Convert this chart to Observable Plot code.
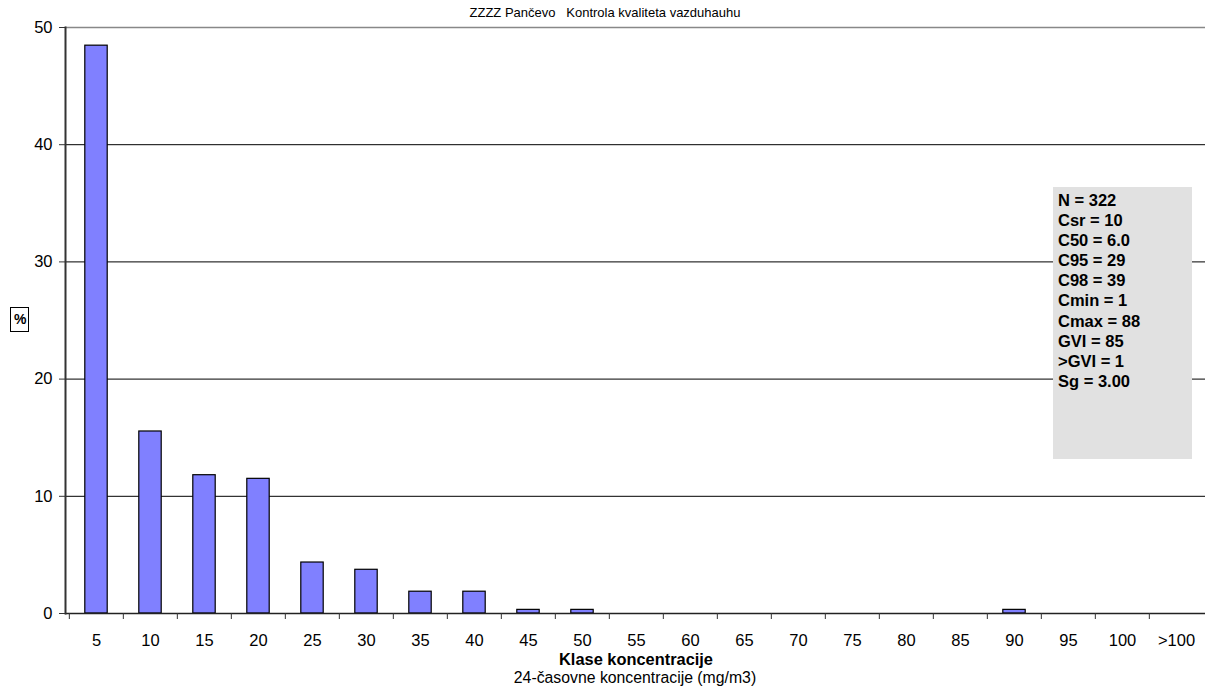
<!DOCTYPE html>
<html>
<head>
<meta charset="utf-8">
<script src="https://cdn.jsdelivr.net/npm/d3@7"></script>
<script src="https://cdn.jsdelivr.net/npm/@observablehq/plot@0.6"></script>
<style>
  html, body { margin: 0; padding: 0; background: #fff; overflow: hidden; }
  #wrap { position: relative; width: 1205px; height: 689px; overflow: hidden; font-family: "Liberation Sans", Arial, sans-serif; }
  #title { position: absolute; left: 0; width: 1210px; top: 5px; text-align: center; font-size: 13px; white-space: pre; color: #000; }
  #ylab { position: absolute; left: 10px; top: 307px; border: 1px solid #000; padding: 3px 2px 3px 3px; font-size: 14px; font-weight: bold; line-height: 17px; }
  #xt1 { position: absolute; left: 0; width: 1272px; top: 650px; text-align: center; font-size: 16.4px; font-weight: bold; }
  #xt2 { position: absolute; left: 0; width: 1270px; top: 669px; text-align: center; font-size: 15.8px; }
  #stats { position: absolute; left: 1053px; top: 187px; width: 134px; height: 264px; background: #e1e1e1; padding: 3px 0 5px 5px; font-size: 16.5px; font-weight: bold; line-height: 20.1px; white-space: pre; }
  svg { position: absolute; left: 0; top: 0; overflow: visible; }
</style>
</head>
<body>
<div id="wrap"></div>
<script>
const categories = ["5","10","15","20","25","30","35","40","45","50","55","60","65","70","75","80","85","90","95","100",">100"];
const percents = [48.45,15.53,11.80,11.49,4.35,3.73,1.86,1.86,0.31,0.31,0,0,0,0,0,0,0,0.31,0,0,0];
const yTicks = [0,10,20,30,40,50];
const titleText = "ZZZZ Pančevo   Kontrola kvaliteta vazduhauhu";
const yLabel = "%";
const xTitle = "Klase koncentracije";
const xSubtitle = "24-časovne koncentracije (mg/m3)";
const statsLines = ["N = 322","Csr = 10","C50 = 6.0","C95 = 29","C98 = 39","Cmin = 1","Cmax = 88","GVI = 85",">GVI = 1","Sg = 3.00"];

const data = categories.map((c, i) => ({cat: c, pct: percents[i]}));

const W = 1205, H = 689, mL = 65, mR = -1, mT = 27, mB = 76;
const bw = (W - mL - mR) / categories.length;

const chart = Plot.plot({
  width: W, height: H,
  marginTop: mT, marginBottom: mB, marginLeft: mL, marginRight: mR,
  style: {fontFamily: "Liberation Sans, Arial, sans-serif", fontSize: "16px", color: "#000", background: "transparent", overflow: "visible"},
  x: {type: "band", domain: categories, padding: 0, label: null},
  y: {domain: [0, 50], label: null},
  marks: [
    Plot.gridY(yTicks.slice(1, -1), {stroke: "#000", strokeOpacity: 1, strokeWidth: 1}),
    Plot.gridY([50], {stroke: "#888", strokeOpacity: 1, strokeWidth: 1.5}),
    Plot.barY(data, {x: "cat", y: "pct", fill: "#8080ff", stroke: "#000", strokeWidth: 1.2, insetLeft: 15.8, insetRight: 15.8}),
    Plot.ruleY([0], {stroke: "#222", strokeWidth: 1.5}),
    Plot.frame({anchor: "left", stroke: "#333", strokeWidth: 2}),
    Plot.axisY({ticks: yTicks, tickSize: 6, tickPadding: 7, fontSize: 16.5, label: null, stroke: "#333"}),
    Plot.axisX({ticks: categories, tickSize: 0, tickPadding: 21, fontSize: 16.5, label: null}),
    Plot.axisX({ticks: categories, tickSize: 6, text: null, dx: -bw / 2, stroke: "#333", label: null})
  ]
});

const wrap = document.getElementById("wrap");
wrap.appendChild(chart);

function addDiv(id, text) {
  const d = document.createElement("div");
  d.id = id;
  d.textContent = text;
  wrap.appendChild(d);
}
addDiv("title", titleText);
addDiv("ylab", yLabel);
addDiv("xt1", xTitle);
addDiv("xt2", xSubtitle);
addDiv("stats", statsLines.join("\n"));
</script>
</body>
</html>
